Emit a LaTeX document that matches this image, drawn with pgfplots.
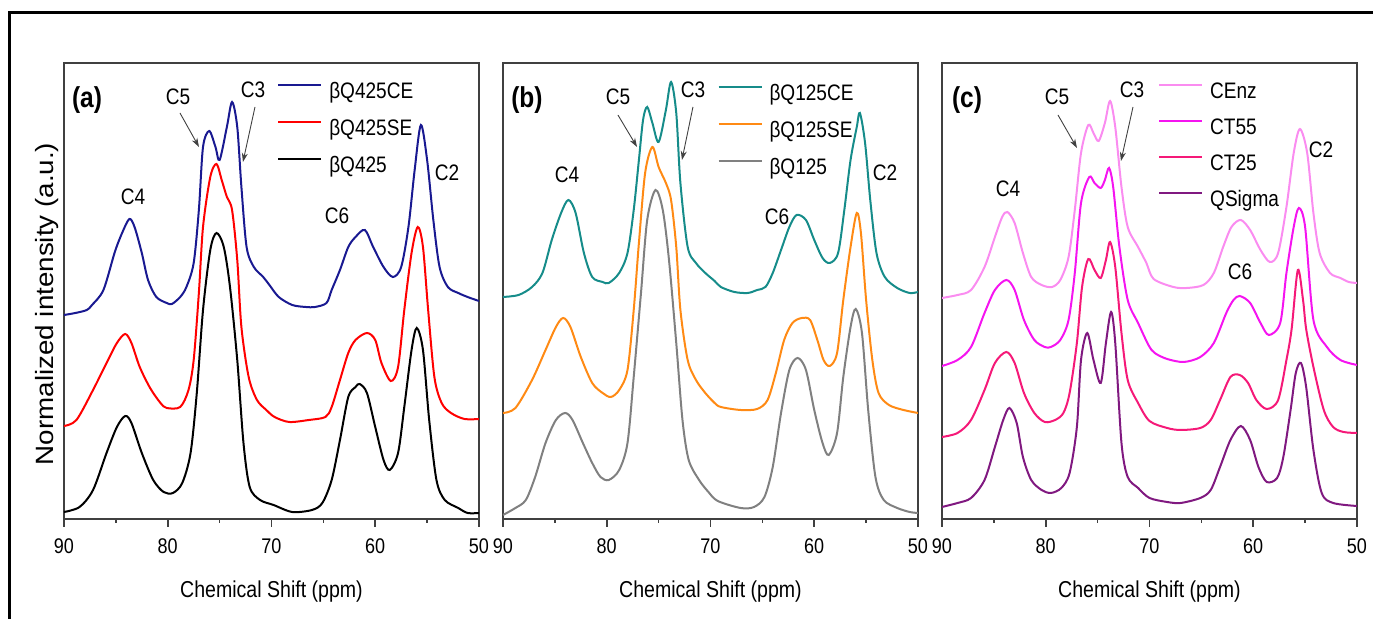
\documentclass[border=0pt]{standalone}
\usepackage{fontspec}
\setmainfont{Liberation Sans}[FakeStretch=0.85]
\newfontfamily\ylabfont{Liberation Sans}[FakeStretch=1.11]
\usepackage{pgfplots}
\pgfplotsset{compat=1.18}
\usetikzlibrary{arrows.meta}

\definecolor{cblue}{RGB}{25,25,145}
\definecolor{cred}{RGB}{255,0,0}
\definecolor{cteal}{RGB}{22,140,138}
\definecolor{corange}{RGB}{255,138,20}
\definecolor{cgrey}{RGB}{128,128,128}
\definecolor{cenz}{RGB}{250,140,240}
\definecolor{ct55}{RGB}{245,20,240}
\definecolor{ct25}{RGB}{245,25,120}
\definecolor{qsig}{RGB}{128,25,128}
\definecolor{axgrey}{RGB}{64,64,64}

\newcommand{\annot}{\fontsize{11.2}{13}\selectfont}
\tikzset{annarrow/.style={axgrey, line width=0.45pt, -{Stealth[length=4.5pt, width=3pt]}}}

\pgfplotsset{panel/.style={
  width=207.5pt, height=228pt, scale only axis,
  xmin=50, xmax=90, ymin=0, ymax=456, x dir=reverse,
  axis line style={axgrey, line width=0.8pt},
  xtick={90,80,70,60,50}, xticklabels={90,80,70,60,50},
  minor xtick={85,75,65,55},
  ytick=\empty,
  tick align=outside, xtick pos=bottom,
  major tick length=4pt, minor tick length=2pt,
  every tick/.style={axgrey, line width=0.8pt},
  tick label style={font=\fontsize{10.6}{12}\selectfont},
  xticklabel style={yshift=-2.5pt},
  xlabel={Chemical Shift (ppm)},
  every axis x label/.style={at={(axis description cs:0.5,0)}, anchor=base, yshift=-39.5pt, font=\fontsize{11.5}{13}\selectfont},
  every axis plot/.append style={line width=1pt, smooth},
  legend image code/.code={\draw[##1] (0pt,4pt) -- (21.5pt,4pt);},
  legend cell align=left,
  legend style={draw=none, fill=none, anchor=north west, inner sep=0pt,
    font=\annot, column sep=3.5pt, row sep=7.9pt,
    nodes={inner sep=0pt, text height=8.2pt, text depth=2.4pt}},
}}

\begin{document}
\begin{tikzpicture}
\useasboundingbox (0,0) rectangle (686.5pt,309.5pt);

% ---------------- (a) ----------------
\begin{axis}[panel, at={(32pt,50pt)}, anchor=south west,
  legend style={at={(0.513,0.959)}}]
\addplot[cblue] coordinates {(90,204) (88.9,206) (87.8,209) (87.3,214) (86.2,229) (85.1,267) (84.4,286) (83.7,300) (83.2,292) (82.5,266) (81.9,239) (81.1,222) (80.1,216) (79.6,215) (78.8,222) (78.2,232) (77.5,256) (77.0,309) (76.6,372) (76.0,388) (75.4,372) (75.0,359) (74.3,392) (73.8,417) (73.3,392) (72.9,332) (72.4,272) (71.7,252) (70.8,242) (70.2,234) (69.3,222) (68.0,214) (66.7,212) (65.8,212) (64.7,216) (64.2,229) (63.4,249) (62.6,272) (61.9,282) (61.0,289) (60.2,272) (59.2,252) (58.3,242) (57.5,252) (56.8,292) (56.2,349) (55.6,394) (55.0,359) (54.4,299) (53.8,252) (53.0,232) (52.0,226) (51.1,222) (50,218)};
\addlegendentry{βQ425CE}
\addplot[cred] coordinates {(90,93) (88.8,99) (87.2,129) (85.9,156) (84.9,176) (84.1,185) (83.5,176) (82.7,152) (81.7,131) (80.7,116) (80.1,111) (78.8,112) (78.0,129) (77.5,159) (77.0,226) (76.6,292) (75.9,342) (75.3,355) (74.8,339) (74.3,322) (73.8,309) (73.3,259) (72.9,192) (72.2,142) (71.4,119) (70.5,109) (69.7,102) (68.3,97) (66.4,99) (64.8,102) (64.2,112) (63.4,139) (62.6,166) (61.9,179) (60.8,186) (60.0,179) (59.4,156) (58.5,138) (57.8,152) (57.2,209) (56.5,266) (55.9,292) (55.4,272) (54.9,209) (54.3,142) (53.6,116) (52.7,106) (51.4,100) (50,100)};
\addlegendentry{βQ425SE}
\addplot[black] coordinates {(90,7) (88.5,12) (87.2,29) (85.9,66) (84.9,92) (84.1,103) (83.5,96) (82.5,66) (81.4,39) (80.4,27) (79.5,26) (78.6,36) (77.8,66) (77.2,126) (76.6,209) (75.9,269) (75.3,286) (74.6,272) (74.0,232) (73.3,159) (72.7,76) (72.1,32) (71.1,19) (69.8,14) (68.0,7) (66.1,9) (65.1,16) (64.2,39) (63.4,79) (62.6,122) (61.9,132) (61.5,135) (60.8,126) (60.0,92) (59.2,59) (58.6,49) (57.8,66) (57.2,112) (56.5,169) (56.0,191) (55.4,169) (54.8,99) (54.1,39) (53.3,19) (52.0,11) (51.1,6) (50,6)};
\addlegendentry{βQ425}
\node[font=\fontsize{14.4}{16}\selectfont\bfseries] at (axis cs:87.78,419) {(a)};
\node[font=\annot] at (axis cs:79.01,422) {C5};
\node[font=\annot] at (axis cs:71.78,429) {C3};
\node[font=\annot] at (axis cs:83.35,322) {C4};
\node[font=\annot] at (axis cs:63.69,303) {C6};
\node[font=\annot] at (axis cs:53.08,346) {C2};
\draw[annarrow] (axis cs:78.82,406) -- (axis cs:76.99,372);
\draw[annarrow] (axis cs:71.59,412) -- (axis cs:72.75,357);
\end{axis}

% ---------------- (b) ----------------
\begin{axis}[panel, at={(251.5pt,50pt)}, anchor=south west,
  legend style={at={(0.516,0.955)}}]
\addplot[cteal] coordinates {(90,222) (88.5,224) (87.2,232) (86.2,246) (85.3,279) (84.4,306) (83.7,319) (83.0,306) (82.2,266) (81.4,242) (80.4,237) (79.8,236) (78.8,246) (78.0,266) (77.4,309) (76.9,359) (76.5,399) (76.1,412) (75.6,396) (75.0,377) (74.3,409) (73.8,437) (73.3,406) (72.9,336) (72.2,272) (71.4,256) (70.5,246) (69.6,238) (69.0,232) (67.7,227) (66.4,226) (65.5,229) (64.7,232) (64.0,246) (63.2,269) (62.4,292) (61.7,304) (60.8,299) (60.0,279) (59.2,261) (58.5,256) (57.7,266) (57.1,309) (56.5,359) (55.9,392) (55.6,406) (55.1,376) (54.6,319) (54.0,266) (53.2,242) (52.0,231) (50.8,226) (50,227)};
\addlegendentry{βQ125CE}
\addplot[corange] coordinates {(90,106) (88.8,111) (87.2,139) (85.9,169) (84.9,192) (84.2,201) (83.5,192) (82.5,162) (81.4,136) (80.4,126) (79.6,122) (78.8,129) (78.0,149) (77.4,209) (76.9,276) (76.3,346) (75.6,372) (75.0,352) (74.3,336) (73.8,319) (73.3,272) (72.9,209) (72.2,159) (71.4,139) (70.5,126) (69.6,116) (69.0,112) (67.1,109) (65.5,110) (64.5,119) (63.7,146) (62.9,179) (62.1,196) (61.2,201) (60.4,199) (59.7,179) (59.1,159) (58.5,153) (57.8,166) (57.2,219) (56.5,272) (55.9,306) (55.5,286) (55.0,219) (54.4,159) (53.8,126) (52.8,114) (51.4,109) (50,106)};
\addlegendentry{βQ125SE}
\addplot[cgrey] coordinates {(90,4) (88.8,11) (87.8,19) (86.9,42) (85.9,76) (84.9,99) (84.0,106) (83.3,99) (82.3,76) (81.4,56) (80.6,42) (79.8,39) (78.8,49) (78.0,76) (77.4,142) (76.7,226) (76.1,299) (75.3,329) (74.6,309) (74.0,259) (73.3,176) (72.7,99) (72.1,59) (71.1,39) (70.2,27) (69.3,18) (67.1,11) (65.8,12) (64.8,22) (64.0,52) (63.2,106) (62.4,149) (61.6,161) (60.8,149) (60.0,109) (59.2,76) (58.6,64) (57.8,86) (57.2,142) (56.5,192) (56.0,210) (55.4,186) (54.8,109) (54.1,42) (53.3,19) (52.0,11) (50.8,7) (50,6)};
\addlegendentry{βQ125}
\node[font=\fontsize{14.4}{16}\selectfont\bfseries] at (axis cs:87.69,419) {(b)};
\node[font=\annot] at (axis cs:78.92,422) {C5};
\node[font=\annot] at (axis cs:71.69,429) {C3};
\node[font=\annot] at (axis cs:83.83,344) {C4};
\node[font=\annot] at (axis cs:63.59,302) {C6};
\node[font=\annot] at (axis cs:53.18,346) {C2};
\draw[annarrow] (axis cs:78.92,404) -- (axis cs:77.08,372);
\draw[annarrow] (axis cs:71.69,412) -- (axis cs:72.75,359);
\end{axis}

% ---------------- (c) ----------------
\begin{axis}[panel, at={(471pt,50pt)}, anchor=south west,
  legend style={at={(0.520,0.959)}, row sep=7.4pt}]
\addplot[cenz] coordinates {(90,221) (88.5,224) (87.2,229) (85.9,252) (84.9,282) (84.2,302) (83.7,307) (83.0,296) (82.2,266) (81.4,242) (80.4,234) (79.4,232) (78.6,239) (77.8,262) (77.2,309) (76.6,366) (75.9,394) (75.4,386) (74.9,378) (74.3,396) (73.8,418) (73.3,392) (72.7,332) (72.1,292) (71.1,272) (70.3,256) (69.6,240) (67.7,232) (66.4,231) (64.8,234) (63.8,246) (62.9,272) (62.1,292) (61.2,299) (60.3,289) (59.3,269) (58.4,257) (57.6,266) (56.8,312) (56.1,366) (55.5,390) (54.8,366) (54.2,306) (53.6,266) (52.6,246) (51.6,241) (50.8,237) (50,236)};
\addlegendentry{CEnz}
\addplot[ct55] coordinates {(90,153) (88.5,159) (87.2,172) (85.9,206) (84.9,229) (83.8,239) (83.0,229) (82.1,199) (81.1,179) (80.1,172) (79.5,172) (78.6,179) (77.8,199) (77.2,246) (76.6,316) (75.8,342) (75.3,336) (74.7,331) (74.3,339) (73.9,351) (73.5,332) (72.9,272) (72.1,219) (71.1,196) (70.1,174) (69.5,166) (68.3,160) (66.7,157) (65.1,162) (63.8,176) (62.6,206) (61.9,219) (61.3,223) (60.3,216) (59.3,196) (58.5,184) (57.4,196) (56.8,246) (56.1,292) (55.6,311) (55.0,292) (54.2,199) (52.9,172) (51.6,159) (50,154)};
\addlegendentry{CT55}
\addplot[ct25] coordinates {(90,82) (88.5,86) (87.2,99) (85.9,129) (84.9,156) (83.8,167) (83.0,156) (82.1,126) (81.1,106) (80.1,97) (79.1,99) (78.3,106) (77.7,126) (77.0,176) (76.5,232) (75.9,260) (75.3,249) (74.7,241) (74.2,259) (73.8,277) (73.3,252) (72.7,186) (72.1,139) (71.1,116) (70.0,98) (68.3,91) (67.0,89) (65.1,91) (64.1,99) (63.2,119) (62.2,142) (61.3,144) (60.5,136) (59.7,119) (58.7,110) (57.6,119) (56.8,159) (56.3,190) (55.7,249) (55.2,219) (54.9,190) (54.2,152) (53.2,109) (52.3,92) (51.3,87) (50,86)};
\addlegendentry{CT25}
\addplot[qsig] coordinates {(90,12) (88.5,16) (87.2,21) (85.9,39) (84.9,72) (84.1,99) (83.5,111) (82.8,96) (82.2,62) (81.4,39) (80.4,29) (79.5,26) (78.5,31) (77.7,46) (77.0,92) (76.6,159) (76.0,186) (75.4,159) (74.7,136) (74.2,176) (73.7,207) (73.3,176) (72.7,76) (72.1,42) (71.1,31) (70.0,21) (68.3,17) (67.0,16) (65.1,21) (64.1,29) (63.2,52) (62.2,79) (61.2,93) (60.3,79) (59.5,52) (58.7,37) (57.7,41) (57.1,62) (56.4,109) (55.9,146) (55.4,156) (54.9,132) (54.2,69) (53.4,26) (52.3,16) (50,13)};
\addlegendentry{QSigma}
\node[font=\fontsize{14.4}{16}\selectfont\bfseries] at (axis cs:87.59,419) {(c)};
\node[font=\annot] at (axis cs:78.92,422) {C5};
\node[font=\annot] at (axis cs:71.69,429) {C3};
\node[font=\annot] at (axis cs:83.64,330) {C4};
\node[font=\annot] at (axis cs:61.28,247) {C6};
\node[font=\annot] at (axis cs:53.47,369) {C2};
\draw[annarrow] (axis cs:78.82,404) -- (axis cs:76.99,371);
\draw[annarrow] (axis cs:71.59,412) -- (axis cs:72.75,358);
\end{axis}

\node[rotate=90, anchor=base, font=\ylabfont\fontsize{12.5}{14}\selectfont] at (26.5pt,157.5pt) {Normalized intensity (a.u.)};
\draw[line width=1.5pt] (4.5pt,-10pt) -- (4.5pt,303pt) -- (720pt,303pt);
\end{tikzpicture}
\end{document}
